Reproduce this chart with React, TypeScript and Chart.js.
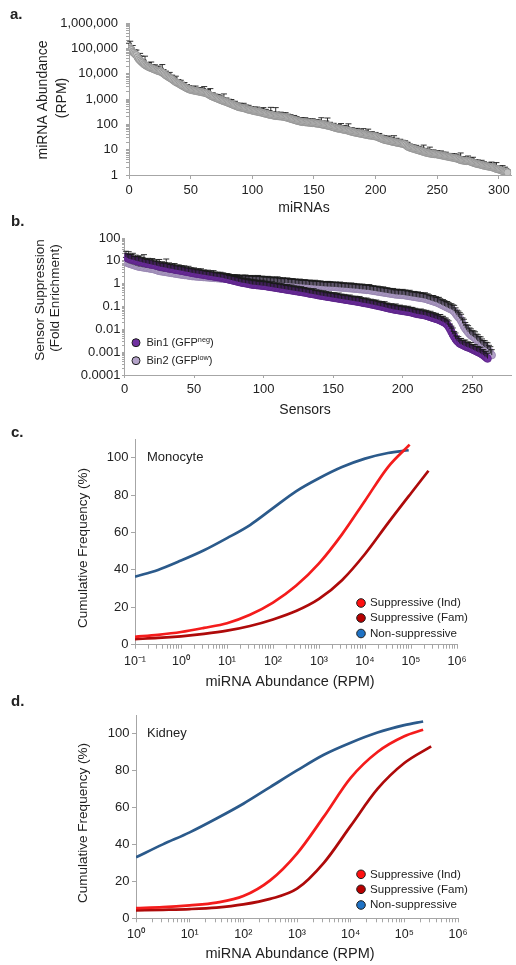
import React, { useEffect, useRef } from 'react';
import { Chart, registerables } from 'chart.js';
Chart.register(...registerables);

const FONT = '"Liberation Sans", Arial, Helvetica, sans-serif';
const AXIS = '#a6a6a6';
const TXT = '#222222';

// ---------- Panel a: miRNA abundance (log10 RPM), ranked ----------
const mirnaLogRPM = [
  5.06,4.98,4.93,4.86,4.82,4.77,4.73,4.64,4.57,4.52,
  4.47,4.43,4.38,4.35,4.31,4.29,4.26,4.24,4.22,4.20,
  4.18,4.16,4.14,4.12,4.10,4.09,4.08,4.04,4.01,3.97,
  3.93,3.90,3.87,3.84,3.81,3.78,3.74,3.70,3.67,3.64,
  3.62,3.59,3.56,3.53,3.50,3.48,3.45,3.42,3.40,3.38,
  3.36,3.35,3.34,3.33,3.32,3.31,3.30,3.29,3.28,3.27,
  3.26,3.25,3.24,3.22,3.20,3.17,3.14,3.11,3.09,3.07,
  3.05,3.03,3.01,2.99,2.97,2.95,2.93,2.91,2.90,2.88,
  2.86,2.84,2.82,2.80,2.78,2.76,2.74,2.72,2.70,2.68,
  2.67,2.66,2.65,2.64,2.63,2.61,2.59,2.58,2.57,2.56,
  2.54,2.53,2.52,2.51,2.50,2.49,2.48,2.47,2.46,2.44,
  2.43,2.42,2.41,2.39,2.38,2.37,2.36,2.35,2.34,2.33,
  2.33,2.32,2.32,2.31,2.31,2.30,2.29,2.28,2.27,2.25,
  2.24,2.22,2.21,2.19,2.18,2.16,2.15,2.13,2.12,2.11,
  2.10,2.09,2.09,2.08,2.08,2.07,2.07,2.06,2.06,2.05,
  2.05,2.04,2.03,2.03,2.02,2.01,2.00,1.99,1.98,1.97,
  1.96,1.95,1.94,1.93,1.91,1.90,1.88,1.87,1.85,1.84,
  1.83,1.82,1.81,1.80,1.79,1.78,1.77,1.76,1.75,1.73,
  1.72,1.70,1.69,1.68,1.67,1.66,1.65,1.64,1.63,1.62,
  1.61,1.60,1.59,1.58,1.57,1.56,1.56,1.55,1.54,1.53,
  1.53,1.51,1.49,1.47,1.45,1.43,1.41,1.39,1.38,1.37,
  1.36,1.35,1.34,1.32,1.31,1.30,1.29,1.28,1.27,1.26,
  1.25,1.24,1.23,1.22,1.20,1.16,1.12,1.10,1.08,1.06,
  1.05,1.03,1.02,1.00,0.99,0.97,0.96,0.94,0.93,0.91,
  0.90,0.88,0.87,0.86,0.85,0.84,0.83,0.83,0.82,0.82,
  0.81,0.80,0.79,0.78,0.77,0.76,0.75,0.74,0.73,0.72,
  0.71,0.70,0.69,0.68,0.67,0.66,0.65,0.63,0.61,0.59,
  0.58,0.57,0.56,0.56,0.55,0.55,0.54,0.53,0.51,0.49,
  0.47,0.46,0.44,0.43,0.42,0.41,0.40,0.38,0.37,0.36,
  0.35,0.34,0.33,0.32,0.31,0.30,0.28,0.26,0.24,0.23,
  0.22,0.20,0.18,0.16,0.14,0.13,0.12,0.10,
];
// upper error, in hundredths of a decade
const mirnaErrCentiLog = [
  14,30,10,25,12,16,20,9,14,28, 22,12,15,34,10,13,18,11,24,14,
  12,19,10,14,20,9,13,32,15,11, 17,9,13,21,12,16,9,14,23,11,
  15,10,18,13,9,17,12,15,11,14, 13,9,16,11,19,10,14,12,17,9,
  15,24,11,13,18,9,27,12,15,11, 14,10,17,12,15,9,13,29,11,16,
  12,15,10,18,13,11,17,9,14,12, 16,11,13,19,10,15,12,17,11,14,
  13,10,16,12,18,11,14,9,15,22, 11,17,13,10,16,30,12,14,11,33,
  15,9,13,17,11,14,10,18,12,15, 11,16,13,10,17,12,15,9,14,13,
  16,11,13,18,10,15,12,14,11,17, 13,10,16,12,15,11,26,13,10,14,
  17,30,12,15,11,13,16,10,14,12, 15,11,22,13,10,17,12,14,27,11,
  13,16,10,15,12,18,11,14,13,10, 22,12,15,11,24,13,10,16,12,14,
  15,11,13,17,10,14,12,16,11,13, 14,19,11,15,12,25,10,17,13,11,
  16,12,14,10,15,13,17,11,14,12, 13,15,11,17,12,14,10,16,13,27,
  12,15,11,14,25,13,10,16,12,14, 15,11,13,17,10,14,12,16,11,13,
  14,12,15,11,17,13,10,16,12,28, 13,15,11,14,12,20,10,15,13,21,
  11,14,12,16,13,10,18,12,15,11, 14,13,16,11,20,12,15,10,25,13,
  12,15,11,21,13,18,14,11,
];
const mirnaXTicks = [0, 50, 100, 150, 200, 250, 300];
const mirnaYDecades = [1, 10, 100, 1000, 10000, 100000, 1000000];
const mirnaYTickLabels = ['1', '10', '100', '1,000', '10,000', '100,000', '1,000,000'];

// ---------- Panel b: sensor suppression (log10 fold enrichment), ranked ----------
const bin1LogFold = [
  1.17,1.13,1.10,1.08,1.06,1.05,1.03,1.01,0.99,0.98,
  0.96,0.95,0.93,0.92,0.90,0.89,0.87,0.86,0.85,0.83,
  0.82,0.81,0.79,0.77,0.76,0.74,0.73,0.72,0.71,0.70,
  0.68,0.67,0.66,0.65,0.64,0.62,0.61,0.60,0.59,0.58,
  0.57,0.56,0.54,0.53,0.52,0.51,0.50,0.48,0.47,0.46,
  0.45,0.44,0.43,0.42,0.41,0.40,0.39,0.38,0.37,0.36,
  0.35,0.34,0.33,0.32,0.31,0.30,0.29,0.28,0.27,0.26,
  0.25,0.23,0.22,0.20,0.19,0.17,0.16,0.14,0.13,0.11,
  0.10,0.08,0.07,0.05,0.04,0.03,0.02,0.01,0.00,-0.02,
  -0.03,-0.04,-0.05,-0.05,-0.06,-0.07,-0.07,-0.08,-0.09,-0.09,
  -0.10,-0.11,-0.12,-0.13,-0.14,-0.15,-0.16,-0.17,-0.18,-0.19,
  -0.20,-0.21,-0.22,-0.23,-0.24,-0.25,-0.26,-0.27,-0.28,-0.29,
  -0.30,-0.31,-0.32,-0.33,-0.34,-0.35,-0.36,-0.37,-0.38,-0.39,
  -0.40,-0.42,-0.43,-0.44,-0.45,-0.46,-0.47,-0.48,-0.50,-0.51,
  -0.52,-0.53,-0.54,-0.55,-0.56,-0.57,-0.58,-0.59,-0.60,-0.61,
  -0.62,-0.63,-0.64,-0.65,-0.66,-0.67,-0.68,-0.69,-0.70,-0.71,
  -0.72,-0.73,-0.74,-0.75,-0.76,-0.77,-0.78,-0.79,-0.80,-0.81,
  -0.83,-0.84,-0.85,-0.86,-0.87,-0.88,-0.90,-0.91,-0.92,-0.94,
  -0.95,-0.96,-0.98,-0.99,-1.00,-1.02,-1.03,-1.05,-1.06,-1.08,
  -1.09,-1.10,-1.12,-1.13,-1.14,-1.15,-1.16,-1.17,-1.18,-1.19,
  -1.20,-1.21,-1.22,-1.23,-1.24,-1.25,-1.27,-1.29,-1.30,-1.32,
  -1.33,-1.34,-1.35,-1.36,-1.37,-1.38,-1.40,-1.42,-1.44,-1.46,
  -1.48,-1.50,-1.52,-1.54,-1.56,-1.58,-1.61,-1.64,-1.67,-1.70,
  -1.74,-1.80,-1.88,-1.98,-2.10,-2.22,-2.32,-2.42,-2.50,-2.56,
  -2.62,-2.65,-2.68,-2.71,-2.74,-2.77,-2.79,-2.81,-2.84,-2.87,
  -2.90,-2.93,-2.96,-2.99,-3.02,-3.05,-3.09,-3.13,-3.18,-3.23,
  -3.28,
];
const bin1ErrCentiLog = [
  25,18,30,20,22,28,16,24,19,21, 26,18,22,35,20,17,24,21,19,27,
  22,18,25,20,30,17,23,19,21,38, 20,24,18,22,19,26,17,21,23,19,
  22,18,24,20,17,25,19,21,18,23, 20,17,22,19,24,18,21,20,17,23,
  19,22,18,25,20,17,21,19,23,18, 22,19,20,24,17,21,18,22,19,20,
  21,18,23,19,20,17,22,19,21,18, 20,23,18,21,19,22,17,20,24,18,
  21,19,22,18,20,23,17,21,19,22, 18,20,24,19,21,17,22,20,18,23,
  19,21,18,22,20,17,23,19,21,20, 18,22,19,21,20,24,17,21,19,22,
  20,18,23,19,21,17,22,20,19,21, 22,18,20,24,19,21,17,22,20,18,
  21,23,19,20,18,22,21,19,24,20, 18,21,19,23,20,17,22,19,21,20,
  23,19,21,18,22,20,24,19,21,18, 20,22,19,21,25,18,20,23,19,21,
  22,19,20,24,18,21,23,19,22,20, 19,21,24,20,22,18,23,21,19,25,
  21,23,20,24,19,22,26,21,24,20, 23,22,25,21,24,28,22,26,21,24,
  22,25,20,23,27,21,24,22,26,20, 23,25,21,24,22,27,20,24,22,25,
  23,
];
const bin2LogFold = [
  0.95,0.92,0.89,0.87,0.85,0.83,0.81,0.79,0.77,0.75,
  0.74,0.73,0.72,0.71,0.70,0.69,0.68,0.67,0.66,0.65,
  0.64,0.62,0.60,0.58,0.56,0.55,0.54,0.53,0.52,0.51,
  0.50,0.49,0.48,0.47,0.46,0.45,0.44,0.43,0.42,0.41,
  0.40,0.39,0.38,0.38,0.37,0.36,0.35,0.34,0.33,0.33,
  0.32,0.32,0.31,0.31,0.30,0.30,0.29,0.29,0.28,0.28,
  0.27,0.27,0.26,0.26,0.25,0.25,0.24,0.24,0.23,0.23,
  0.22,0.22,0.21,0.21,0.20,0.20,0.19,0.19,0.18,0.18,
  0.17,0.17,0.17,0.16,0.16,0.16,0.15,0.15,0.15,0.14,
  0.14,0.14,0.13,0.13,0.13,0.12,0.12,0.12,0.11,0.11,
  0.10,0.10,0.09,0.09,0.08,0.08,0.07,0.07,0.06,0.06,
  0.05,0.05,0.04,0.04,0.03,0.03,0.02,0.02,0.01,0.01,
  0.00,0.00,-0.01,-0.02,-0.02,-0.03,-0.03,-0.04,-0.04,-0.05,
  -0.05,-0.06,-0.06,-0.07,-0.07,-0.08,-0.08,-0.09,-0.09,-0.10,
  -0.10,-0.11,-0.11,-0.12,-0.12,-0.13,-0.13,-0.13,-0.14,-0.14,
  -0.14,-0.15,-0.15,-0.16,-0.16,-0.17,-0.17,-0.18,-0.18,-0.19,
  -0.19,-0.20,-0.20,-0.21,-0.21,-0.22,-0.22,-0.23,-0.24,-0.24,
  -0.25,-0.25,-0.26,-0.27,-0.27,-0.28,-0.29,-0.30,-0.31,-0.32,
  -0.33,-0.34,-0.35,-0.36,-0.37,-0.38,-0.39,-0.40,-0.41,-0.42,
  -0.43,-0.44,-0.45,-0.46,-0.47,-0.47,-0.48,-0.48,-0.49,-0.49,
  -0.50,-0.51,-0.52,-0.53,-0.54,-0.55,-0.56,-0.57,-0.58,-0.59,
  -0.60,-0.61,-0.62,-0.63,-0.64,-0.65,-0.67,-0.69,-0.71,-0.73,
  -0.75,-0.77,-0.79,-0.81,-0.83,-0.86,-0.89,-0.92,-0.95,-0.98,
  -1.01,-1.04,-1.07,-1.10,-1.13,-1.16,-1.22,-1.30,-1.38,-1.46,
  -1.52,-1.62,-1.74,-1.86,-1.96,-2.04,-2.12,-2.19,-2.25,-2.30,
  -2.33,-2.39,-2.45,-2.51,-2.57,-2.62,-2.68,-2.73,-2.78,-2.82,
  -2.86,-2.95,-3.04,-3.13,
];
const bin2ErrCentiLog = [
  20,16,22,18,15,19,21,17,20,18, 19,17,21,16,20,18,22,17,19,20,
  18,21,17,19,20,16,22,18,19,21, 17,20,18,19,21,16,20,18,22,19,
  20,17,21,18,19,22,17,20,18,19, 21,18,20,17,19,22,18,20,19,21,
  18,20,22,19,17,21,20,18,19,23, 20,18,21,19,22,17,20,19,21,18,
  22,19,20,18,21,19,23,20,18,21, 19,22,20,18,21,24,19,20,22,18,
  21,19,23,20,18,22,19,21,20,24, 19,21,18,22,20,19,23,21,18,20,
  22,19,21,20,18,23,20,19,21,22, 19,20,22,18,21,20,23,19,21,20,
  22,19,20,21,18,23,20,22,19,21, 20,22,19,21,23,20,18,22,21,19,
  21,20,23,19,22,20,21,18,22,20, 23,21,19,22,20,24,21,19,22,20,
  21,23,20,22,19,24,21,20,23,21, 22,20,24,21,19,23,22,20,21,24,
  21,23,20,22,25,21,19,23,22,20, 24,21,23,20,22,25,21,24,22,20,
  23,25,21,24,22,26,23,21,25,24, 22,26,24,21,25,23,27,24,22,26,
  25,28,24,30,26,24,28,25,27,24, 26,28,24,27,25,29,26,24,28,25,
  27,25,28,24,
];
const sensorXTicks = [0, 50, 100, 150, 200, 250];
const sensorYDecades = [0.0001, 0.001, 0.01, 0.1, 1, 10, 100];
const sensorYTickLabels = ['0.0001', '0.001', '0.01', '0.1', '1', '10', '100'];

// ---------- Panel c: Monocyte cumulative frequency (x as log10 RPM) ----------
const monoIndExp = [-1, -0.5, 0, 0.5, 1, 1.5, 2, 2.5, 3, 3.5, 4, 4.5, 4.97];
const monoIndFreq = [4.2, 5.3, 6.8, 9, 11.5, 16, 22.5, 31.5, 43.5, 59, 77, 95, 107];
const monoFamExp = [-1, -0.5, 0, 0.5, 1, 1.5, 2, 2.5, 3, 3.5, 4, 4.5, 5, 5.38];
const monoFamFreq = [3, 3.6, 4.5, 5.8, 7.5, 10, 13.5, 18, 24.5, 34.5, 48.5, 65, 81, 93];
const monoNonExp = [-1, -0.5, 0, 0.5, 1, 1.5, 2, 2.5, 3, 3.5, 4, 4.5, 4.95];
const monoNonFreq = [36.4, 40, 45, 50.5, 57, 64, 73, 82, 89, 95, 99.5, 102.5, 104];
const monoXDecades = [0.1, 1, 10, 100, 1000, 10000, 100000, 1000000];
const monoXTickLabels = ['10⁻¹', '10⁰', '10¹', '10²', '10³', '10⁴', '10⁵', '10⁶'];

// ---------- Panel d: Kidney cumulative frequency ----------
const kidIndExp = [0, 0.5, 1, 1.5, 2, 2.5, 3, 3.5, 4, 4.5, 5, 5.35];
const kidIndFreq = [5.5, 6, 7, 8.5, 12, 20.5, 35, 55, 76, 90, 98.5, 102];
const kidFamExp = [0, 0.5, 1, 1.5, 2, 2.5, 3, 3.5, 4, 4.5, 5, 5.5];
const kidFamFreq = [4.3, 4.6, 5, 5.8, 7.5, 10.5, 16, 30, 50, 70, 84, 93];
const kidNonExp = [0, 0.5, 1, 1.5, 2, 2.5, 3, 3.5, 4, 4.5, 5, 5.35];
const kidNonFreq = [33, 40, 46.5, 54, 62, 71, 80, 88.5, 95, 100.5, 104.5, 106.5];
const kidXDecades = [1, 10, 100, 1000, 10000, 100000, 1000000];
const kidXTickLabels = ['10⁰', '10¹', '10²', '10³', '10⁴', '10⁵', '10⁶'];

const freqYTicks = [0, 20, 40, 60, 80, 100];
const curveLabels = ['Suppressive (Ind)', 'Suppressive (Fam)', 'Non-suppressive'];

// ---------- helpers ----------
type Area = { left: number; right: number; top: number; bottom: number };

function geom(H: number, a: Area) {
  const zero = (s: any) => { s.paddingLeft = 0; s.paddingRight = 0; s.paddingTop = 0; s.paddingBottom = 0; };
  return {
    padding: { left: 0, top: a.top, right: 516 - a.right, bottom: 0 },
    xFit: (s: any) => { s.height = H - a.bottom; zero(s); },
    yFit: (s: any) => { s.width = a.left; zero(s); },
  };
}

function logTicks(decades: number[]) {
  const out: any[] = [];
  decades.forEach((d, i) => {
    out.push({ value: d, major: false });
    if (i < decades.length - 1) for (let m = 2; m <= 9; m++) out.push({ value: m * d, major: false });
  });
  return out;
}

function decadeLabel(decades: number[], labels: string[]) {
  return (value: any) => {
    const k = decades.findIndex((d) => Math.abs(Math.log10(Number(value)) - Math.log10(d)) < 1e-6);
    return k >= 0 ? labels[k] : '';
  };
}

function drawErrors(chart: any, args: any) {
  const ds = chart.data.datasets[args.index];
  const meta = args.meta;
  const ys = chart.scales[meta.yAxisID];
  const ctx = chart.ctx;
  ctx.save();
  ctx.strokeStyle = '#1a1a1a';
  ctx.lineWidth = 0.9;
  ctx.beginPath();
  meta.data.forEach((el: any, j: number) => {
    const up = ds.errUp[j];
    if (up == null) return;
    const yt = ys.getPixelForValue(up);
    ctx.moveTo(el.x, el.y);
    ctx.lineTo(el.x, yt);
    ctx.moveTo(el.x - 3, yt);
    ctx.lineTo(el.x + 3, yt);
  });
  ctx.stroke();
  ctx.restore();
}

// error bars drawn either under their own markers or on top of them
const errorBars = {
  id: 'errorBars',
  beforeDatasetDraw(chart: any, args: any) {
    const ds = chart.data.datasets[args.index];
    if (ds.errUp && !ds.errOnTop) drawErrors(chart, args);
  },
  afterDatasetDraw(chart: any, args: any) {
    const ds = chart.data.datasets[args.index];
    if (ds.errUp && ds.errOnTop) drawErrors(chart, args);
  },
};

type TextItem = { text: string; x: number; y: number; size: number; bold?: boolean; align?: string; rotate?: number };
type LegendItem = { x: number; y: number; r: number; fill: string; tx: number; size: number; parts: { t: string; sup?: boolean }[] };

function makeAnnot(texts: TextItem[], legend: LegendItem[]) {
  return {
    id: 'annot',
    afterDraw(chart: any) {
      const ctx = chart.ctx;
      for (const t of texts) {
        ctx.save();
        ctx.font = `${t.bold ? 'bold ' : ''}${t.size}px ${FONT}`;
        ctx.fillStyle = TXT;
        ctx.textAlign = t.align || 'center';
        ctx.textBaseline = 'middle';
        ctx.translate(t.x, t.y);
        if (t.rotate) ctx.rotate(t.rotate);
        ctx.fillText(t.text, 0, 0);
        ctx.restore();
      }
      for (const l of legend) {
        ctx.save();
        ctx.beginPath();
        ctx.arc(l.x, l.y, l.r, 0, Math.PI * 2);
        ctx.fillStyle = l.fill;
        ctx.fill();
        ctx.lineWidth = 1;
        ctx.strokeStyle = '#1e1e1e';
        ctx.stroke();
        let x = l.tx;
        ctx.fillStyle = TXT;
        ctx.textAlign = 'left';
        ctx.textBaseline = 'middle';
        for (const p of l.parts) {
          const size = p.sup ? l.size * 0.66 : l.size;
          ctx.font = `${size}px ${FONT}`;
          ctx.fillText(p.t, x, l.y + (p.sup ? -l.size * 0.28 : 0));
          x += ctx.measureText(p.t).width;
        }
        ctx.restore();
      }
    },
  };
}

function axisCommon(fontSize: number, tickLength: number, padding: number) {
  return {
    grid: { drawOnChartArea: false, drawTicks: true, tickLength, color: AXIS, lineWidth: 1 },
    border: { display: true, color: AXIS, width: 1 },
    ticks: { autoSkip: false, maxRotation: 0, minRotation: 0, padding, color: TXT, font: { family: FONT, size: fontSize } },
  };
}

const baseOptions = (padding: any) => ({
  responsive: false,
  animation: false as const,
  devicePixelRatio: 1,
  events: [] as any[],
  layout: { padding },
  plugins: { legend: { display: false }, tooltip: { enabled: false }, title: { display: false } },
});

// ---------- panel builders ----------
function buildA(H: number) {
  const g = geom(H, { left: 129, right: 515.6, top: 23, bottom: 175 });
  const xc = axisCommon(13, 4, 4);
  const yc = axisCommon(13, 3, 8);
  return {
    type: 'scatter',
    data: {
      datasets: [{
        data: mirnaLogRPM.map((v, i) => ({ x: i, y: Math.pow(10, v) })),
        errUp: mirnaLogRPM.map((v, i) => Math.pow(10, v + mirnaErrCentiLog[i] / 100)),
        errOnTop: false,
        pointRadius: 3.6,
        pointBackgroundColor: '#c2c2c2',
        pointBorderColor: '#8f8f8f',
        pointBorderWidth: 0.8,
      }],
    },
    options: {
      ...baseOptions(g.padding),
      scales: {
        x: { type: 'linear', min: 0, max: 310, afterBuildTicks: (s: any) => { s.ticks = mirnaXTicks.map((v) => ({ value: v })); }, afterFit: g.xFit, ...xc },
        y: { type: 'logarithmic', min: 1, max: 1000000, afterBuildTicks: (s: any) => { s.ticks = logTicks(mirnaYDecades); }, afterFit: g.yFit, ...yc,
          ticks: { ...yc.ticks, callback: decadeLabel(mirnaYDecades, mirnaYTickLabels) } },
      },
    },
    plugins: [errorBars, makeAnnot([
      { text: 'a.', x: 10, y: 15, size: 15, bold: true, align: 'left' },
      { text: 'miRNA Abundance', x: 43, y: 100, size: 14, rotate: -Math.PI / 2 },
      { text: '(RPM)', x: 62, y: 98, size: 14, rotate: -Math.PI / 2 },
      { text: 'miRNAs', x: 304, y: 208, size: 14 },
    ], [])],
  };
}

function buildB(H: number) {
  const g = geom(H, { left: 124.5, right: 516, top: 23, bottom: 160 });
  const xc = axisCommon(13, 3, 4);
  const yc = axisCommon(13, 2.5, 1.5);
  return {
    type: 'scatter',
    data: {
      datasets: [
        {
          label: 'Bin1',
          data: bin1LogFold.map((v, i) => ({ x: i + 1, y: Math.pow(10, v) })),
          errUp: bin1LogFold.map((v, i) => Math.pow(10, v + bin1ErrCentiLog[i] / 100)),
          errOnTop: true,
          pointRadius: 3.8,
          pointBackgroundColor: '#7030a0',
          pointBorderColor: '#5a2386',
          pointBorderWidth: 0.8,
        },
        {
          label: 'Bin2',
          data: bin2LogFold.map((v, i) => ({ x: i + 1, y: Math.pow(10, v) })),
          errUp: bin2LogFold.map((v, i) => Math.pow(10, v + bin2ErrCentiLog[i] / 100)),
          errOnTop: true,
          pointRadius: 3.8,
          pointBackgroundColor: '#b4a3c9',
          pointBorderColor: '#9684ae',
          pointBorderWidth: 0.8,
        },
      ],
    },
    options: {
      ...baseOptions(g.padding),
      scales: {
        x: { type: 'linear', min: 0, max: 278, afterBuildTicks: (s: any) => { s.ticks = sensorXTicks.map((v) => ({ value: v })); }, afterFit: g.xFit, ...xc },
        y: { type: 'logarithmic', min: 0.0001, max: 100, afterBuildTicks: (s: any) => { s.ticks = logTicks(sensorYDecades); }, afterFit: g.yFit, ...yc,
          ticks: { ...yc.ticks, callback: decadeLabel(sensorYDecades, sensorYTickLabels) } },
      },
    },
    plugins: [errorBars, makeAnnot([
      { text: 'b.', x: 11, y: 7, size: 15, bold: true, align: 'left' },
      { text: 'Sensor Suppression', x: 40, y: 85, size: 13.5, rotate: -Math.PI / 2 },
      { text: '(Fold Enrichment)', x: 55, y: 83, size: 13.5, rotate: -Math.PI / 2 },
      { text: 'Sensors', x: 305, y: 195, size: 14 },
    ], [
      { x: 136, y: 127.7, r: 4, fill: '#7030a0', tx: 146.5, size: 11, parts: [{ t: 'Bin1 (GFP' }, { t: 'neg', sup: true }, { t: ')' }] },
      { x: 136, y: 145.7, r: 4, fill: '#b4a3c9', tx: 146.5, size: 11, parts: [{ t: 'Bin2 (GFP' }, { t: 'low', sup: true }, { t: ')' }] },
    ])],
  };
}

const RED = '#f41c1c';
const DARKRED = '#ae0a0a';
const BLUE = '#2b5a8b';

function curve(exps: number[], vals: number[], color: string) {
  return {
    data: exps.map((e, i) => ({ x: Math.pow(10, e), y: vals[i] })),
    showLine: true,
    borderColor: color,
    borderWidth: 2.7,
    pointRadius: 0,
    cubicInterpolationMode: 'monotone',
    fill: false,
  };
}

function buildCurves(H: number, area: Area, xmin: number, decades: number[], labels: string[],
  series: [number[], number[]][], letter: string, letterY: number, inset: string, insetY: number,
  yTitleY: number, xTitleY: number, legY: number[]) {
  const g = geom(H, area);
  const xc = axisCommon(12.5, 4, 5);
  const yc = axisCommon(13, 4, 2.5);
  return {
    type: 'scatter',
    data: {
      datasets: [
        curve(series[0][0], series[0][1], RED),
        curve(series[1][0], series[1][1], DARKRED),
        curve(series[2][0], series[2][1], BLUE),
      ],
    },
    options: {
      ...baseOptions(g.padding),
      scales: {
        x: { type: 'logarithmic', min: xmin, max: 1000000, afterBuildTicks: (s: any) => { s.ticks = logTicks(decades); }, afterFit: g.xFit, ...xc,
          ticks: { ...xc.ticks, callback: decadeLabel(decades, labels) } },
        y: { type: 'linear', min: 0, max: 110, afterBuildTicks: (s: any) => { s.ticks = freqYTicks.map((v) => ({ value: v })); }, afterFit: g.yFit, ...yc },
      },
    },
    plugins: [makeAnnot([
      { text: letter, x: 11, y: letterY, size: 15, bold: true, align: 'left' },
      { text: inset, x: 147, y: insetY, size: 13, align: 'left' },
      { text: 'Cumulative Frequency (%)', x: 83.5, y: yTitleY, size: 13.5, rotate: -Math.PI / 2 },
      { text: 'miRNA Abundance (RPM)', x: 290, y: xTitleY, size: 14.5 },
    ], [
      { x: 361, y: legY[0], r: 4.3, fill: '#ff1010', tx: 370, size: 11.6, parts: [{ t: curveLabels[0] }] },
      { x: 361, y: legY[1], r: 4.3, fill: '#b80000', tx: 370, size: 11.6, parts: [{ t: curveLabels[1] }] },
      { x: 361, y: legY[2], r: 4.3, fill: '#1f72c4', tx: 370, size: 11.6, parts: [{ t: curveLabels[2] }] },
    ])],
  };
}

function buildC(H: number) {
  return buildCurves(H, { left: 135, right: 457, top: 19, bottom: 224.7 }, 0.1, monoXDecades, monoXTickLabels,
    [[monoIndExp, monoIndFreq], [monoFamExp, monoFamFreq], [monoNonExp, monoNonFreq]],
    'c.', 13, 'Monocyte', 37, 128, 262, [183, 198, 213.5]);
}

function buildD(H: number) {
  return buildCurves(H, { left: 136, right: 458, top: 25, bottom: 228.3 }, 1, kidXDecades, kidXTickLabels,
    [[kidIndExp, kidIndFreq], [kidFamExp, kidFamFreq], [kidNonExp, kidNonFreq]],
    'd.', 12, 'Kidney', 43.5, 133, 264, [184.3, 199.3, 215]);
}

function Panel({ top, height, build }: { top: number; height: number; build: (h: number) => any }) {
  const ref = useRef<HTMLCanvasElement>(null);
  useEffect(() => {
    const chart = new Chart(ref.current as HTMLCanvasElement, build(height));
    return () => chart.destroy();
  }, []);
  return (
    <canvas
      ref={ref}
      width={516}
      height={height}
      style={{ position: 'absolute', left: 0, top, width: 516, height, display: 'block' }}
    />
  );
}

export default function App() {
  return (
    <div style={{ position: 'absolute', left: 0, top: 0, width: 516, height: 965, background: '#ffffff', overflow: 'hidden' }}>
      <Panel top={0} height={215} build={buildA} />
      <Panel top={215} height={205} build={buildB} />
      <Panel top={420} height={270} build={buildC} />
      <Panel top={690} height={275} build={buildD} />
    </div>
  );
}
